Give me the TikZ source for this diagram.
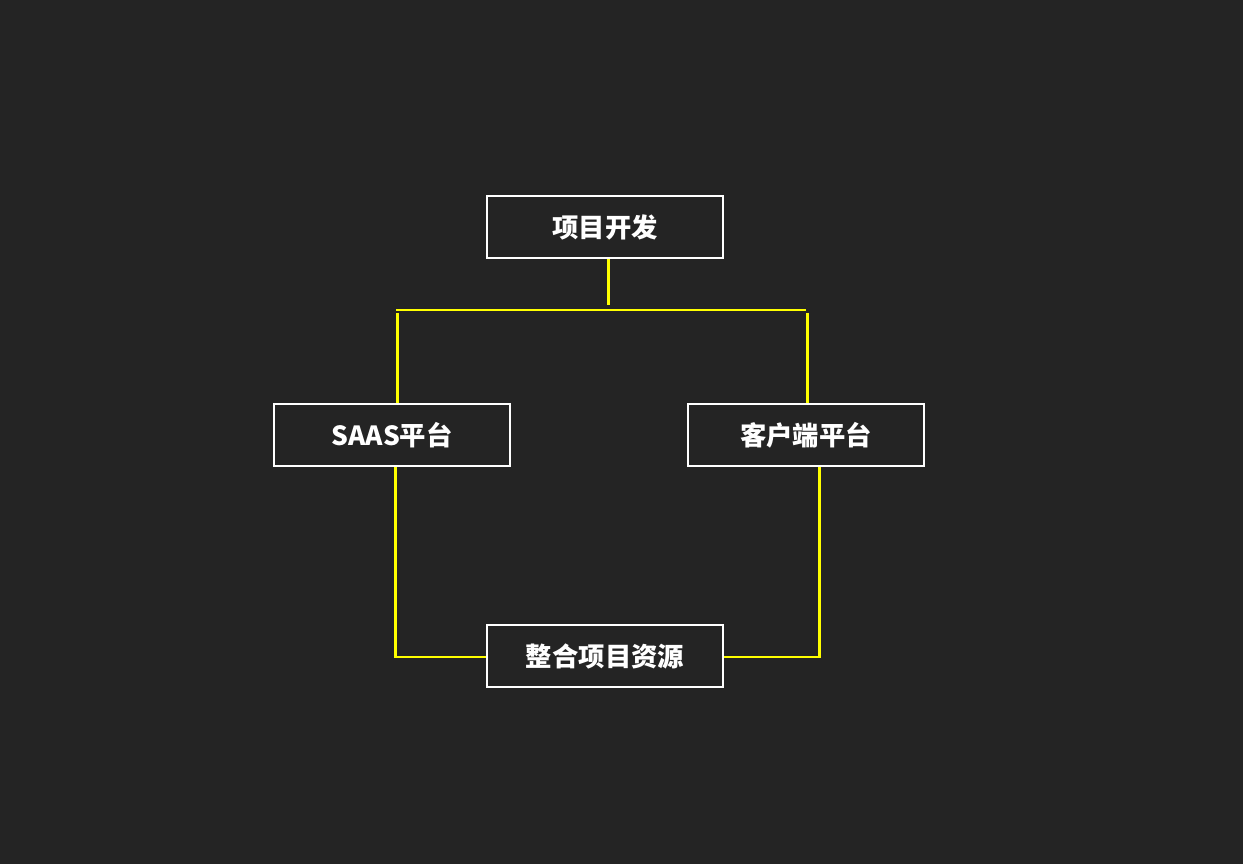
\documentclass[tikz,border=0pt]{standalone}
\usepackage{fontspec}
\setmainfont{Liberation Sans}
\newfontfamily\cjk{Noto Sans CJK SC}
\usetikzlibrary{positioning}
\definecolor{bgdark}{HTML}{242424}
\definecolor{linky}{HTML}{FFFF00}
\tikzset{
  box/.style={draw=white, line width=1.1pt, minimum width=4.72cm, minimum height=1.24cm,
    text=white, font=\cjk\bfseries\fontsize{15}{18}\selectfont},
  link/.style={draw=linky, line width=1.7pt}
}
\begin{document}
\begin{tikzpicture}[x=0.02cm, y=-0.02cm]
        % 背景
        \fill[bgdark] (0,0) rectangle (1243,864);
        \useasboundingbox (0,0) rectangle (1243,864);
        % ノード
        \node[box] (proj) at (605,227) {项目开发};
        \node[box] (saas) at (392,435) {SAAS平台};
        \node[box] (client) at (806,435) {客户端平台};
        \node[box] (merge) at (605,656) {整合项目资源};
        % 分岐点
        \coordinate (tdown) at (608,305);
        \coordinate (hl) at (396,310);
        \coordinate (hr) at (806,310);
        \coordinate (lb) at (395,657);
        \coordinate (rb) at (819,657);
        % 接続線
        \draw[link] (proj.south -| tdown) -- (tdown);
        \draw[link] (hl) -- (hr);
        \draw[link] (397,313) -- (saas.north -| 397,0);
        \draw[link] (807,313) -- (client.north -| 807,0);
        \draw[link] (saas.south -| lb) -- (lb) -- (merge.west |- lb);
        \draw[link] (client.south -| rb) -- (rb) -- (merge.east |- rb);
\end{tikzpicture}
\end{document}
